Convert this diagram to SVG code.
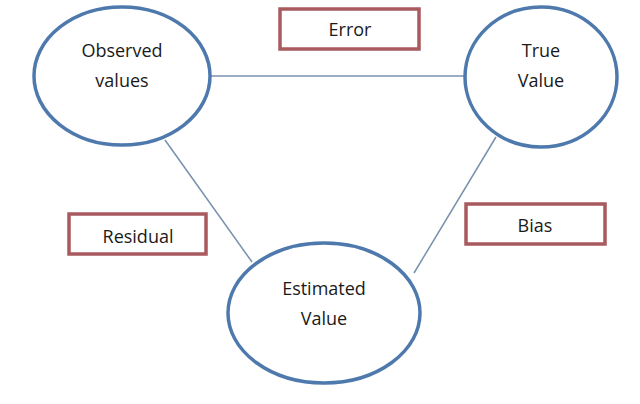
<svg xmlns="http://www.w3.org/2000/svg" width="640" height="404" viewBox="0 0 640 404">
<style>
.node{fill:#fff;stroke:#4e79ad;stroke-width:3.5}
.box{fill:#fff;stroke:#a85a5e;stroke-width:3.5}
.lbl{font-family:"Open Sans","Noto Sans",sans-serif;font-size:18px;fill:#1a1a1a;text-anchor:middle}
.edge{stroke:#7890ad;stroke-width:1.5;fill:none}
</style>
<rect width="640" height="404" fill="#fff"/>
<g id="connectors">
<line class="edge" x1="211" y1="76" x2="465" y2="76"/>
<line class="edge" x1="165" y1="140" x2="252" y2="262"/>
<line class="edge" x1="496" y1="137" x2="414" y2="273"/>
</g>
<g id="observed">
<ellipse class="node" cx="122" cy="76" rx="88" ry="69"/>
<text class="lbl" x="122" y="57">Observed</text>
<text class="lbl" x="122" y="87">values</text>
</g>
<g id="true">
<ellipse class="node" cx="541" cy="77" rx="76" ry="70"/>
<text class="lbl" x="541" y="57">True</text>
<text class="lbl" x="541" y="87">Value</text>
</g>
<g id="estimated">
<ellipse class="node" cx="324" cy="313" rx="96" ry="70"/>
<text class="lbl" x="324" y="295">Estimated</text>
<text class="lbl" x="324" y="325">Value</text>
</g>
<g id="error">
<rect class="box" x="280" y="9" width="139" height="40"/>
<text class="lbl" x="350" y="36">Error</text>
</g>
<g id="residual">
<rect class="box" x="69" y="214" width="137" height="40"/>
<text class="lbl" x="138" y="243">Residual</text>
</g>
<g id="bias">
<rect class="box" x="466" y="204" width="139" height="40"/>
<text class="lbl" x="535" y="232">Bias</text>
</g>
</svg>
